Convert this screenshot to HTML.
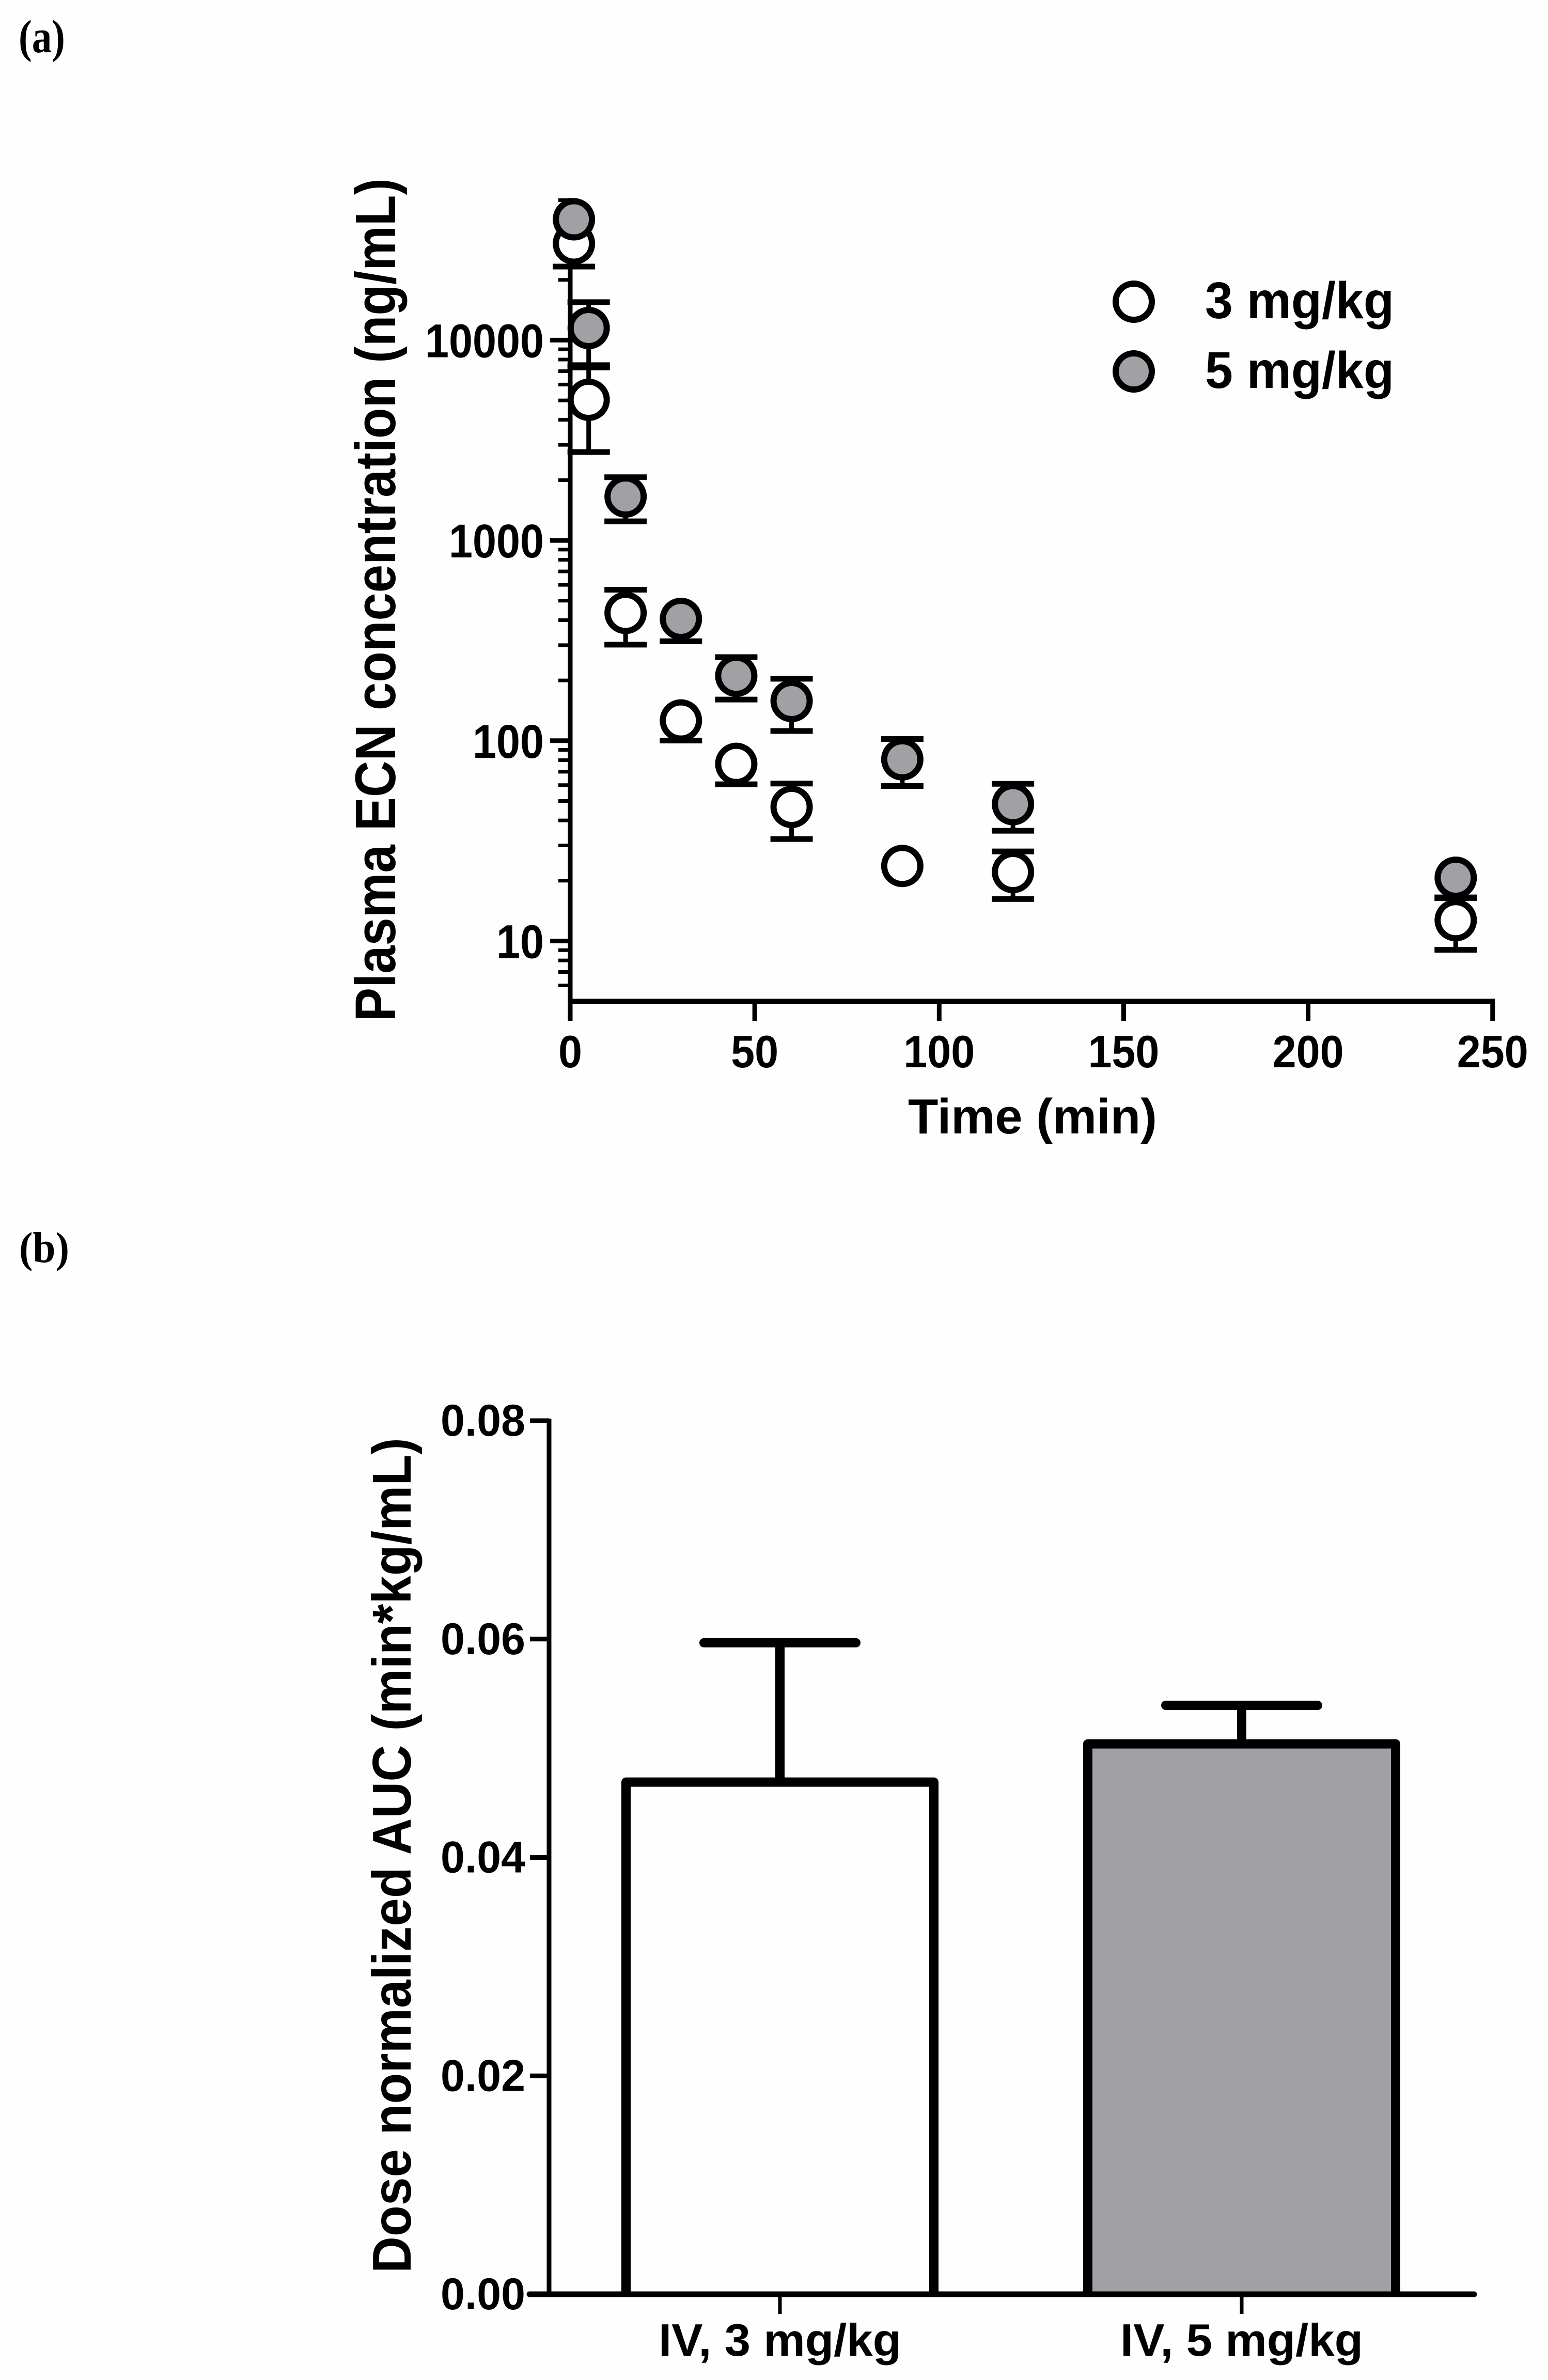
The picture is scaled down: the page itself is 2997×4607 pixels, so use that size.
<!DOCTYPE html>
<html lang="en">
<head>
<meta charset="utf-8">
<title>Plasma ECN concentration and dose normalized AUC</title>
<style>
html,body{margin:0;padding:0;background:#fefefe;}
svg{display:block;}
text{font-family:"Liberation Sans",Arial,sans-serif;font-weight:bold;fill:#000;}
text.panel{font-family:"Liberation Serif","Times New Roman",serif;}
</style>
</head>
<body>
<svg id="figure" xmlns="http://www.w3.org/2000/svg" width="2997" height="4607" viewBox="0 0 2997 4607">
  <rect x="0" y="0" width="2997" height="4607" fill="#fefefe"/>
  <text class="panel" x="36" y="101" font-size="90" textLength="90" lengthAdjust="spacingAndGlyphs">(a)</text>
  <text class="panel" x="37" y="2443" font-size="84" textLength="97" lengthAdjust="spacingAndGlyphs">(b)</text>

  <g id="chart-a"></g>
  <text transform="translate(765,1977) rotate(-90)" font-size="110" textLength="1632" lengthAdjust="spacingAndGlyphs">Plasma ECN concentration (ng/mL)</text>
  <text x="1758" y="2194" font-size="96" textLength="482" lengthAdjust="spacingAndGlyphs">Time (min)</text>
  <g>
    <circle cx="2195" cy="584" r="35" fill="#fefefe" stroke="#000" stroke-width="12"/>
    <text x="2333" y="616" font-size="100" textLength="366" lengthAdjust="spacingAndGlyphs">3 mg/kg</text>
    <circle cx="2195" cy="719" r="35" fill="#a1a1a5" stroke="#000" stroke-width="12"/>
    <text x="2333" y="751" font-size="100" textLength="366" lengthAdjust="spacingAndGlyphs">5 mg/kg</text>
  </g>

  <g id="chart-b"></g>
  <text transform="translate(795,4400) rotate(-90)" font-size="106" textLength="1617" lengthAdjust="spacingAndGlyphs">Dose normalized AUC (min*kg/mL)</text>
</svg>
<script>
// ---- Panel (a) data ----
const times = [1, 5, 15, 30, 45, 60, 90, 120, 240];
const lowDoseMeans = [30340, 5035, 434.6, 126.2, 76.6, 46.7, 23.7, 22.1, 12.7];
const lowDoseErrorsDown = [7040, 2272, 133, 26, 16, 14.4, 0, 5.9, 3.66];
const lowDoseErrorsUp = [0, 2272, 133, 0, 0, 14.4, 0, 5.9, 3.66];
const highDoseMeans = [40100, 11490, 1657, 405.7, 211, 157.8, 80.7, 48.2, 20.7];
const highDoseErrorsDown = [0, 3990, 411, 92, 50.5, 46, 21.3, 12.7, 4.2];
const highDoseErrorsUp = [0, 3990, 411, 0, 50.5, 46, 21.3, 12.7, 0];
const timeTicks = [0, 50, 100, 150, 200, 250];
const decadeTicks = [10, 100, 1000, 10000];
const minorTicks = [6, 7, 8, 9, 20, 30, 40, 50, 60, 70, 80, 90, 200, 300, 400, 500, 600, 700, 800, 900, 2000, 3000, 4000, 5000, 6000, 7000, 8000, 9000, 20000, 30000, 40000, 50000];

// ---- Panel (b) data ----
const groupLabels = ['IV, 3 mg/kg', 'IV, 5 mg/kg'];
const aucMeans = [0.0469, 0.0504];
const aucErrors = [0.01276, 0.00353];
const aucTicks = ['0.00', '0.02', '0.04', '0.06', '0.08'];

const SVG_NS = 'http://www.w3.org/2000/svg';
function make(parent, tag, attrs) {
  const el = document.createElementNS(SVG_NS, tag);
  for (const k in attrs) el.setAttribute(k, attrs[k]);
  parent.appendChild(el);
  return el;
}
function segment(parent, x1, y1, x2, y2, w, cap) {
  return make(parent, 'line', { x1: x1, y1: y1, x2: x2, y2: y2, stroke: '#000', 'stroke-width': w, 'stroke-linecap': cap || 'butt' });
}

// Axis functions panel (a)
const xA = t => 1104 + t * 7.143;
const yA = v => 1821.5 - (Math.log10(v) - 1) * 387.7;

const chartA = document.getElementById('chart-a');

const xAxisA = segment(chartA, 1100, yA(5), 2894, yA(5), 10);


const yAxisA = segment(chartA, xA(0), yA(50000) - 4, xA(0), yA(5) + 4, 9);



timeTicks.forEach(t => {
  const tick = segment(chartA, xA(t), yA(5), xA(t), 1976, 9);
  
  
  const label = make(chartA, 'text', { x: xA(t), y: 2066, 'font-size': 88, 'text-anchor': 'middle', textLength: String(t).length * 46, lengthAdjust: 'spacingAndGlyphs' });
  label.textContent = String(t);
  
  
});
decadeTicks.forEach(v => {
  const tick = segment(chartA, 1065, yA(v), xA(0), yA(v), 9);
  
  
  const label = make(chartA, 'text', { x: 1053, y: yA(v) + 33, 'font-size': 92, 'text-anchor': 'end', textLength: String(v).length * 46, lengthAdjust: 'spacingAndGlyphs' });
  label.textContent = String(v);
  
  
});
minorTicks.forEach(v => {
  const tick = segment(chartA, 1081, yA(v), xA(0), yA(v), 7);
  
  
});

function drawSeries(name, means, errorsDown, errorsUp, fill) {
  const g = make(chartA, 'g', {});
  
  
  times.forEach((t, i) => {
    const x = xA(t);
    const top = yA(means[i] + errorsUp[i]);
    const bottom = yA(means[i] - errorsDown[i]);
    const stem = segment(g, x, top, x, bottom, 9);
    
    
    if (errorsUp[i] > 0) {
      const capTop = segment(g, x - 41, top, x + 41, top, 11);
      
      
    }
    if (errorsDown[i] > 0) {
      const capBottom = segment(g, x - 41, bottom, x + 41, bottom, 11);
      
      
    }
    const dot = make(g, 'circle', { cx: x, cy: yA(means[i]), r: 35, fill: fill, stroke: '#000', 'stroke-width': 12 });
    
    
  });
}
drawSeries('series-3-mg-kg', lowDoseMeans, lowDoseErrorsDown, lowDoseErrorsUp, '#fefefe');
drawSeries('series-5-mg-kg', highDoseMeans, highDoseErrorsDown, highDoseErrorsUp, '#a1a1a5');

// Axis functions panel (b)
const yB = v => 4441 - v * 21137.5;
const xB = i => 1510 + i * 894;
const barWidth = 596;

const chartB = document.getElementById('chart-b');
const barFills = ['#fefefe', '#a1a1a5'];

aucTicks.forEach(v => {
  const y = yB(parseFloat(v));
  const tick = segment(chartB, 1026, y, 1063, y, 9);
  
  
  const label = make(chartB, 'text', { x: 1017, y: y + 29, 'font-size': 86, 'text-anchor': 'end', textLength: 164, lengthAdjust: 'spacingAndGlyphs' });
  label.textContent = v;
  
  
});

groupLabels.forEach((name, i) => {
  const cx = xB(i);
  const top = yB(aucMeans[i]);
  const bottom = yB(0);
  const errTop = yB(aucMeans[i] + aucErrors[i]);
  const stem = segment(chartB, cx, errTop, cx, top, 18);
  
  
  const cap = segment(chartB, cx - 147, errTop, cx + 147, errTop, 18, 'round');
  
  
  const left = cx - barWidth / 2;
  const right = cx + barWidth / 2;
  const bar = make(chartB, 'path', { d: 'M' + left + ' ' + bottom + ' V' + top + ' H' + right + ' V' + bottom, fill: barFills[i], stroke: '#000', 'stroke-width': 18, 'stroke-linejoin': 'round' });
  
  
  const tick = segment(chartB, cx, bottom, cx, 4479, 7);
  
  
  const label = make(chartB, 'text', { x: cx, y: 4560, 'font-size': 88, 'text-anchor': 'middle', textLength: 470, lengthAdjust: 'spacingAndGlyphs' });
  label.textContent = name;
  
  
});

const yAxisB = segment(chartB, 1063, yB(0.08) - 4, 1063, yB(0), 9);


const xAxisB = segment(chartB, 1025, yB(0), 2854, yB(0), 11, 'round');


</script>
</body>
</html>
